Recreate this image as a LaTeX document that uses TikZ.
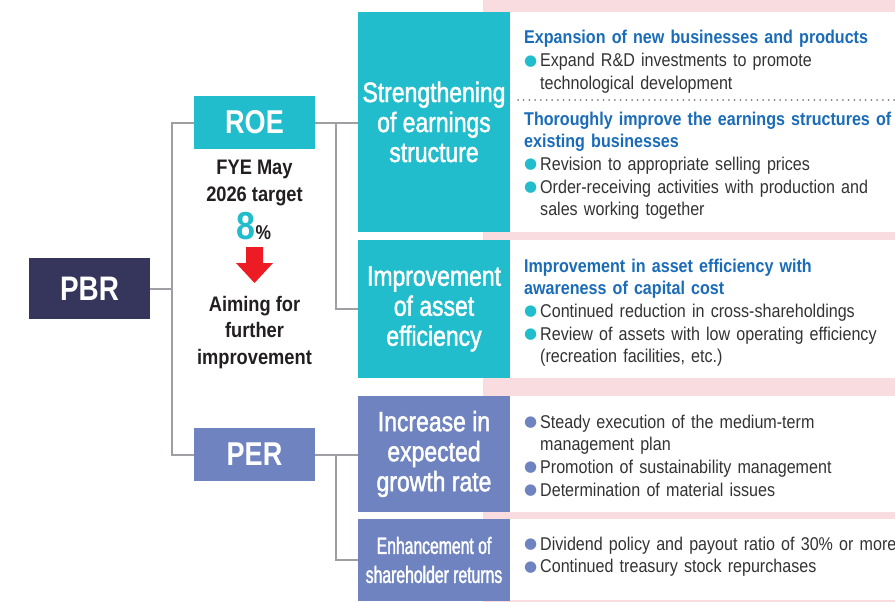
\documentclass[tikz,border=0pt]{standalone}
\usepackage{fontspec}
\setmainfont{Liberation Sans}[FakeStretch=0.87]
\newfontfamily\boxfont{Liberation Sans}[FakeStretch=0.82, FakeBold=1.6]
\newfontfamily\keyfont{Liberation Sans}[FakeStretch=0.82]
\newfontfamily\narrowfont{Liberation Sans}[FakeStretch=0.67, FakeBold=1.6]
\newfontfamily\dotfont{DejaVu Sans}
\usetikzlibrary{positioning}

\definecolor{roecyan}{RGB}{34,189,204}
\definecolor{pbrnavy}{RGB}{54,53,92}
\definecolor{perblue}{RGB}{110,131,192}
\definecolor{linkgrey}{RGB}{157,159,162}
\definecolor{headblue}{RGB}{27,108,184}
\definecolor{bodygrey}{RGB}{51,51,51}
\definecolor{notegrey}{RGB}{35,31,32}
\definecolor{boxpink}{RGB}{249,220,223}
\definecolor{arrowred}{RGB}{237,28,36}

\newlength{\bulw}\setlength{\bulw}{16pt}
\newcommand{\listhead}[1]{{\color{headblue}\bfseries #1}}
\newcommand{\bitem}[2]{\makebox[\bulw][l]{\color{#1}\raisebox{1.5pt}{\dotfont\fontsize{15}{15}\selectfont ●}}#2}
\newcommand{\bcont}{\newline\hspace*{\bulw}}

\begin{document}
\begin{tikzpicture}[x=1pt, y=-1pt,
    link/.style={draw=linkgrey, line width=2pt},
    keybox/.style={text=white, inner sep=0pt, minimum width=121pt,
      font=\keyfont\bfseries\fontsize{33}{33}\selectfont},
    bigbox/.style={text=white, inner sep=0pt, minimum width=152pt, align=center,
      font=\boxfont\fontsize{28}{30}\selectfont},
    note/.style={text=notegrey, inner sep=0pt, align=center,
      font=\bfseries\fontsize{21}{26.5}\selectfont},
    listtext/.style={anchor=base west, inner sep=0pt, text width=380pt, align=left,
      text=bodygrey, font=\fontsize{18.5}{22.7}\selectfont},
    sepdots/.style={draw=gray, line width=2pt, line cap=round, dash pattern=on 0pt off 5.7pt}]
        \useasboundingbox (0,0) rectangle (895,602);
        \fill[white] (0,0) rectangle (895,602);

        % Pink band and white panels on the right
        \fill[boxpink] (483,0) rectangle (895,602);
        \fill[white] (510,12) rectangle (895,232);
        \fill[white] (510,240) rectangle (895,378);
        \fill[white] (510,396) rectangle (895,512);
        \fill[white] (510,519) rectangle (895,600);

        % Draw the ratios
        \node[keybox, fill=pbrnavy, minimum height=61pt,
          font=\keyfont\bfseries\fontsize{34}{34}\selectfont] (pbr) at (89.5,288.5) {PBR};
        \node[keybox, fill=roecyan, minimum height=53pt] (roe) at (254.5,122.5) {ROE};
        \node[keybox, fill=perblue, minimum height=53pt] (per) at (254.5,454.5) {PER};

        % ROE target note
        \node[note, below=11pt of roe] (target) {FYE May\\2026 target};
        \node[note, anchor=base] (goal) at (254,239)
          {{\color{roecyan}\fontsize{39}{39}\selectfont 8}{\fontsize{20}{20}\selectfont\%}};
        \fill[arrowred] (246,247) -- (263,247) -- (263,263) -- (273,263)
          -- (254.5,283) -- (236,263) -- (246,263) -- cycle;
        \node[note, anchor=north] (aim) at (254.5,296) {Aiming for\\further\\improvement};

        % Draw the measures
        \node[bigbox, fill=roecyan, minimum height=220pt] (strength) at (434,122)
          {Strengthening\\of earnings\\structure};
        \node[bigbox, fill=roecyan, minimum height=138pt] (asset) at (434,309)
          {Improvement\\of asset\\efficiency};
        \node[bigbox, fill=perblue, minimum height=116pt] (growth) at (434,454)
          {Increase in\\expected\\growth rate};
        \node[bigbox, fill=perblue, minimum height=82pt,
          font=\narrowfont\fontsize{23.5}{29}\selectfont] (returns) at (434,560)
          {Enhancement of\\shareholder returns};

        % Connect the boxes
        \coordinate (pbr-fork) at (172,288.5);
        \coordinate (roe-fork) at (336,122.5);
        \coordinate (per-fork) at (336,454.5);
        \draw[link] (pbr.east) -- (pbr-fork);
        \draw[link] (roe.west) -| (pbr-fork) |- (per.west);
        \draw[link] (roe.east) -- (roe.east -| strength.west);
        \draw[link] (roe-fork) |- (asset.west);
        \draw[link] (per.east) -- (per.east -| growth.west);
        \draw[link] (per-fork) |- (returns.west);

        % Lists of actions
        \node[listtext] (newbiz) at (524,44)
          {\listhead{Expansion of new businesses and products}\newline
           \bitem{roecyan}{Expand R\&D investments to promote\bcont technological development}};
        \draw[sepdots] (518,100) -- (895,100);
        \node[listtext] (oldbiz) at (524,125)
          {\listhead{Thoroughly improve the earnings structures of\newline existing businesses}\newline
           \bitem{roecyan}{Revision to appropriate selling prices}\newline
           \bitem{roecyan}{Order-receiving activities with production and\bcont sales working together}};
        \node[listtext] (assetlist) at (524,272)
          {\listhead{Improvement in asset efficiency with\newline awareness of capital cost}\newline
           \bitem{roecyan}{Continued reduction in cross-shareholdings}\newline
           \bitem{roecyan}{Review of assets with low operating efficiency\bcont (recreation facilities, etc.)}};
        \node[listtext] (growthlist) at (524,428)
          {\bitem{perblue}{Steady execution of the medium-term\bcont management plan}\newline
           \bitem{perblue}{Promotion of sustainability management}\newline
           \bitem{perblue}{Determination of material issues}};
        \node[listtext] (returnslist) at (524,550)
          {\bitem{perblue}{Dividend policy and payout ratio of 30\% or more}\newline
           \bitem{perblue}{Continued treasury stock repurchases}};
\end{tikzpicture}
\end{document}
